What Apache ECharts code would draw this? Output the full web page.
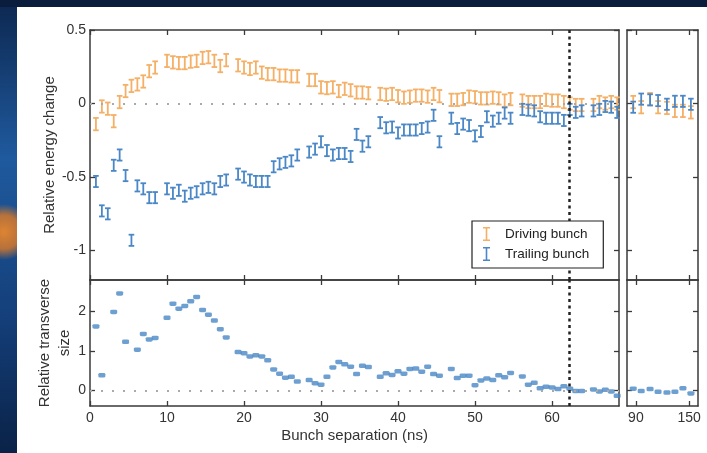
<!DOCTYPE html>
<html>
<head>
<meta charset="utf-8">
<script src="https://cdn.jsdelivr.net/npm/echarts@6/dist/echarts.min.js"></script>
<style>
  html, body { margin: 0; padding: 0; background: #0c2142; }
  #chart { width: 707px; height: 453px; }
</style>
</head>
<body>
<div id="chart"></div>
<script>
// bunch separation (ns), one entry per bucket
const bunchSep = [0.77,1.54,2.31,3.08,3.85,4.62,5.38,6.15,6.92,7.69,8.46,9.23,
  10.00,10.77,11.54,12.31,13.08,13.85,14.62,15.38,16.15,16.92,17.69,18.46,
  19.23,20.00,20.77,21.54,22.31,23.08,23.85,24.62,25.38,26.15,26.92,27.69,
  28.46,29.23,30.00,30.77,31.54,32.31,33.08,33.85,34.62,35.38,36.15,36.92,
  37.69,38.46,39.23,40.00,40.77,41.54,42.31,43.08,43.85,44.62,45.38,46.15,
  46.92,47.69,48.46,49.23,50.00,50.77,51.54,52.31,53.08,53.85,54.62,55.38,
  56.15,56.92,57.69,58.46,59.23,60.00,60.77,61.54,62.31,63.08,63.85,64.62,
  65.38,66.15,66.92,67.69,68.46];

const drivingEnergy = [-0.14,-0.02,-0.035,-0.12,0.01,0.085,0.12,0.13,0.15,0.22,0.245,null,
  0.29,0.28,0.275,0.275,0.285,0.29,0.31,0.315,0.29,0.255,0.295,null,
  0.26,0.245,0.235,0.245,0.21,0.2,0.2,0.19,0.19,0.185,0.185,null,
  0.16,0.16,0.11,0.105,0.11,0.085,0.1,0.09,0.075,0.075,0.07,null,
  0.065,0.06,0.065,0.05,0.04,0.047,0.054,0.054,0.047,0.065,0.05,null,
  0.025,0.025,0.03,0.047,0.043,0.035,0.035,0.04,0.035,0.02,0.03,null,
  0.02,0.01,0.01,0.01,0.025,0.02,0.02,0.01,0,-0.01,-0.01,null,
  -0.01,0.01,0,0.01,0];

const trailingEnergy = [-0.53,-0.73,-0.75,-0.42,-0.35,-0.49,-0.93,-0.56,-0.58,-0.64,-0.64,null,
  -0.58,-0.61,-0.59,-0.63,-0.61,-0.6,-0.58,-0.57,-0.58,-0.53,-0.52,null,
  -0.48,-0.5,-0.52,-0.53,-0.53,-0.53,-0.43,-0.41,-0.4,-0.39,-0.35,null,
  -0.33,-0.31,-0.26,-0.32,-0.35,-0.34,-0.34,-0.36,-0.21,-0.29,-0.26,null,
  -0.13,-0.165,-0.16,-0.2,-0.18,-0.18,-0.18,-0.17,-0.16,-0.08,-0.26,null,
  -0.1,-0.17,-0.14,-0.15,-0.22,-0.19,-0.09,-0.12,-0.1,-0.065,-0.1,null,
  -0.04,-0.045,-0.05,-0.09,-0.1,-0.1,-0.1,-0.115,-0.04,-0.06,-0.05,null,
  -0.05,-0.04,-0.02,-0.025,-0.06];

const trailingSize = [1.62,0.38,null,1.99,2.46,1.23,null,1.03,1.43,1.29,1.33,null,
  1.84,2.2,2.07,2.14,2.26,2.37,2.04,1.92,1.77,1.55,1.34,null,
  0.97,0.94,0.86,0.89,0.86,0.76,0.53,0.42,0.32,0.34,0.22,null,
  0.26,0.18,0.14,0.34,0.58,0.72,0.66,0.6,0.41,0.62,0.59,null,
  0.34,0.43,0.39,0.48,0.42,0.54,0.55,0.47,0.6,0.41,0.37,null,
  0.54,0.31,0.37,0.37,0.13,0.25,0.3,0.26,0.38,0.33,0.44,null,
  0.35,0.14,0.19,0.05,0.09,0.07,0.03,0.1,0.04,-0.02,-0.02,null,
  0.02,-0.03,0.01,-0.03,-0.14];

// long separations (broken axis panel)
const tailSep = [87, 96, 106, 115, 125, 134, 143, 152];
const tailDrivingEnergy = [0.01, -0.025, 0.03, -0.025, -0.03, -0.05, -0.05, -0.06];
const tailTrailingEnergy = [-0.025, 0.03, 0.025, 0.02, -0.005, 0.015, 0.015, -0.005];
const tailSize = [0.04, -0.02, 0.03, -0.04, -0.06, -0.04, 0.05, -0.08];

const drivingErr = 0.042;
const trailingErr = 0.038;
const markerSep = 62.3;

const sepTicks = [0, 10, 20, 30, 40, 50, 60];
const tailTicks = [90, 150];
const energyTicks = [-1, -0.5, 0, 0.5];
const sizeTicks = [0, 1, 2];

const ORANGE = '#f4b066';
const BLUE = '#4a87c6';
const AXIS = '#3a3a3a';
const FONT = 'Liberation Sans, Arial, sans-serif';

function rows(xs, ys, err) {
  const out = [];
  xs.forEach(function (x, i) {
    if (ys[i] == null) return;
    out.push(err == null ? [x, ys[i]] : [x, ys[i], err]);
  });
  return out;
}

function errorBar(params, api) {
  const x = api.value(0), y = api.value(1), e = api.value(2);
  const hi = api.coord([x, y + e]);
  const lo = api.coord([x, y - e]);
  const hw = 2.8;
  const style = { stroke: api.visual('color'), lineWidth: 1.8 };
  return {
    type: 'group',
    children: [
      { type: 'line', shape: { x1: hi[0], y1: hi[1], x2: lo[0], y2: lo[1] }, style: style },
      { type: 'line', shape: { x1: hi[0] - hw, y1: hi[1], x2: hi[0] + hw, y2: hi[1] }, style: style },
      { type: 'line', shape: { x1: lo[0] - hw, y1: lo[1], x2: lo[0] + hw, y2: lo[1] }, style: style }
    ]
  };
}

function xAx(grid, position, min, max, ticks, labels, extra) {
  return Object.assign({
    type: 'value', gridIndex: grid, position: position, min: min, max: max,
    axisLine: { show: true, onZero: false, lineStyle: { color: AXIS, width: 1.5 } },
    axisTick: { show: true, inside: true, length: 5, customValues: ticks, lineStyle: { color: AXIS, width: 1.3 } },
    axisLabel: { show: labels, customValues: ticks, margin: 5, fontSize: 14, color: '#333', fontFamily: FONT },
    splitLine: { show: false }
  }, extra || {});
}

function yAx(grid, position, min, max, ticks, labels) {
  return {
    type: 'value', gridIndex: grid, position: position, min: min, max: max,
    axisLine: { show: true, onZero: false, lineStyle: { color: AXIS, width: 1.5 } },
    axisTick: { show: true, inside: true, length: 5, customValues: ticks, lineStyle: { color: AXIS, width: 1.3 } },
    axisLabel: { show: labels, customValues: ticks, margin: 4, fontSize: 14, color: '#333', fontFamily: FONT },
    splitLine: { show: false }
  };
}

// rotated y-axis titles
function yTitle(text, x, y) {
  return {
    type: 'text', x: x, y: y, rotation: Math.PI / 2, z: 5,
    style: { text: text, fontSize: 15, lineHeight: 20, fontFamily: FONT, fill: '#333',
      align: 'center', verticalAlign: 'middle' }
  };
}

const zeroLine = { yAxis: 0, lineStyle: { color: '#aaaaaa', type: [2, 9], width: 2 } };
const sepLine = { xAxis: markerSep, lineStyle: { color: '#222', type: [3, 3.5], width: 2.5 } };

const IBEAM = 'path://M0,0H7V1.6H4.3V12.4H7V14H0V12.4H2.7V1.6H0Z';

const chart = echarts.init(document.getElementById('chart'));
chart.setOption({
  backgroundColor: '#0c2142',
  animation: false,
  graphic: [
    { type: 'rect', z: -10, shape: { x: 0, y: 0, width: 707, height: 453 },
      style: { fill: new echarts.graphic.LinearGradient(0, 0, 0, 1, [
        { offset: 0, color: '#0d2750' }, { offset: 0.35, color: '#1f5a9e' },
        { offset: 0.7, color: '#143f7a' }, { offset: 1, color: '#0a2247' }]) } },
    { type: 'circle', z: -9, shape: { cx: 4, cy: 232, r: 28 },
      style: { fill: new echarts.graphic.RadialGradient(0.5, 0.5, 0.5, [
        { offset: 0, color: 'rgba(222,132,50,1)' }, { offset: 0.6, color: 'rgba(210,120,45,0.85)' },
        { offset: 1, color: 'rgba(210,120,45,0)' }]) } },
    { type: 'rect', z: -9, shape: { x: 0, y: 0, width: 707, height: 7 }, style: { fill: '#0b1d3c' } },
    { type: 'rect', z: -8, shape: { x: 17, y: 7, width: 690, height: 446 }, style: { fill: '#ffffff' } },
    yTitle('Relative energy change', 50, 155),
    yTitle('Relative transverse\nsize', 55, 343)
  ],
  grid: [
    { left: 90, top: 30, width: 529, height: 250 },
    { left: 90, top: 280, width: 529, height: 126 },
    { left: 627, top: 30, width: 71, height: 250 },
    { left: 627, top: 280, width: 71, height: 126 }
  ],
  legend: {
    z: 20,
    orient: 'vertical', left: 472, top: 221,
    itemWidth: 7, itemHeight: 14, itemGap: 6,
    padding: [6, 14, 7, 11],
    borderColor: '#222', borderWidth: 1.2, backgroundColor: '#fff',
    selectedMode: false,
    textStyle: { fontSize: 13.5, color: '#222', fontFamily: FONT, padding: [0, 0, 0, 10] },
    data: [{ name: 'Driving bunch', icon: IBEAM }, { name: 'Trailing bunch', icon: IBEAM }]
  },
  xAxis: [
    xAx(0, 'bottom', 0, 68.7, sepTicks, false),
    xAx(0, 'top', 0, 68.7, sepTicks, false),
    xAx(1, 'bottom', 0, 68.7, sepTicks, true, {
      name: 'Bunch separation (ns)', nameLocation: 'middle', nameGap: 22,
      nameTextStyle: { fontSize: 15, color: '#333', fontFamily: FONT } }),
    xAx(1, 'top', 0, 68.7, sepTicks, false),
    xAx(2, 'bottom', 80, 160, tailTicks, false),
    xAx(2, 'top', 80, 160, tailTicks, false),
    xAx(3, 'bottom', 80, 160, tailTicks, true),
    xAx(3, 'top', 80, 160, tailTicks, false)
  ],
  yAxis: [
    yAx(0, 'left', -1.2, 0.5, energyTicks, true),
    yAx(0, 'right', -1.2, 0.5, energyTicks, false),
    yAx(1, 'left', -0.4, 2.8, sizeTicks, true),
    yAx(1, 'right', -0.4, 2.8, sizeTicks, false),
    yAx(2, 'left', -1.2, 0.5, energyTicks, false),
    yAx(2, 'right', -1.2, 0.5, energyTicks, false),
    yAx(3, 'left', -0.4, 2.8, sizeTicks, false),
    yAx(3, 'right', -0.4, 2.8, sizeTicks, false)
  ],
  series: [
    {
      name: 'Driving bunch', type: 'custom', xAxisIndex: 0, yAxisIndex: 0,
      itemStyle: { color: ORANGE }, renderItem: errorBar, encode: { x: 0, y: 1 },
      data: rows(bunchSep, drivingEnergy, drivingErr),
      markLine: { silent: true, symbol: 'none', label: { show: false }, data: [zeroLine, sepLine] }
    },
    {
      name: 'Trailing bunch', type: 'custom', xAxisIndex: 0, yAxisIndex: 0,
      itemStyle: { color: BLUE }, renderItem: errorBar, encode: { x: 0, y: 1 },
      data: rows(bunchSep, trailingEnergy, trailingErr)
    },
    {
      name: 'Trailing size', type: 'scatter', xAxisIndex: 2, yAxisIndex: 2,
      symbol: 'roundRect', symbolSize: [7, 4.5], itemStyle: { color: BLUE },
      data: rows(bunchSep, trailingSize),
      markLine: { silent: true, symbol: 'none', label: { show: false }, data: [zeroLine, sepLine] }
    },
    {
      name: 'Driving bunch', type: 'custom', xAxisIndex: 4, yAxisIndex: 4,
      itemStyle: { color: ORANGE }, renderItem: errorBar, encode: { x: 0, y: 1 },
      data: rows(tailSep, tailDrivingEnergy, drivingErr)
    },
    {
      name: 'Trailing bunch', type: 'custom', xAxisIndex: 4, yAxisIndex: 4,
      itemStyle: { color: BLUE }, renderItem: errorBar, encode: { x: 0, y: 1 },
      data: rows(tailSep, tailTrailingEnergy, trailingErr)
    },
    {
      name: 'Trailing size', type: 'scatter', xAxisIndex: 6, yAxisIndex: 6,
      symbol: 'roundRect', symbolSize: [7, 4.5], itemStyle: { color: BLUE },
      data: rows(tailSep, tailSize)
    }
  ]
});
</script>
</body>
</html>
